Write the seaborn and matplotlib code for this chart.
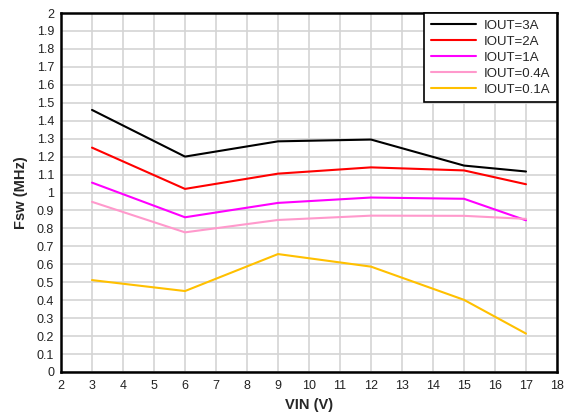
import matplotlib
matplotlib.use("Agg")
import matplotlib.pyplot as plt
import seaborn as sns
import pandas as pd

# ---------------------------------------------------
# DATA
# ---------------------------------------------------

vin = [3, 6, 9, 12, 15, 17]

fsw_3a = [1.46, 1.20, 1.285, 1.295, 1.15, 1.117]
fsw_2a = [1.25, 1.02, 1.105, 1.14, 1.123, 1.046]
fsw_1a = [1.055, 0.862, 0.942, 0.972, 0.965, 0.845]
fsw_04a = [0.948, 0.778, 0.847, 0.871, 0.87, 0.853]
fsw_01a = [0.512, 0.451, 0.657, 0.587, 0.402, 0.214]

labels = ["IOUT=3A", "IOUT=2A", "IOUT=1A", "IOUT=0.4A", "IOUT=0.1A"]
colors = ["#000000", "#ff0000", "#ff00ff", "#ff99cc", "#ffc000"]

series = [fsw_3a, fsw_2a, fsw_1a, fsw_04a, fsw_01a]

rows = []
for label, values in zip(labels, series):
    for v, f in zip(vin, values):
        rows.append({"VIN": v, "Fsw": f, "Load": label})
df = pd.DataFrame(rows)

# ---------------------------------------------------
# STYLE
# ---------------------------------------------------

sns.set_style("white")
plt.rcParams["font.family"] = ["Liberation Sans", "DejaVu Sans"]

fig = plt.figure(figsize=(5.64, 4.13), dpi=100)
ax = fig.add_axes([61 / 564, 1 - 372 / 413, (557 - 61) / 564, (372 - 13) / 413])

sns.lineplot(
    data=df,
    x="VIN",
    y="Fsw",
    hue="Load",
    hue_order=labels,
    palette=dict(zip(labels, colors)),
    linewidth=1.5,
    ax=ax
)

ax.set_xlim(2, 18)
ax.set_ylim(0, 2)
ax.set_xticks(range(2, 19))
ax.set_yticks([i / 10 for i in range(21)])
ax.set_yticklabels([f"{i / 10:g}" for i in range(21)])

ax.grid(True, color="#d4d4d4", linewidth=1.2)
ax.set_axisbelow(True)
ax.tick_params(axis="both", length=0, labelsize=9, colors="#222222")
ax.tick_params(axis="x", pad=6)
ax.tick_params(axis="y", pad=5)

for spine in ax.spines.values():
    spine.set_color("black")
    spine.set_linewidth(1.8)

ax.set_xlabel("VIN (V)", fontsize=10.5, fontweight="bold", labelpad=4)
ax.set_ylabel("Fsw (MHz)", fontsize=10.5, fontweight="bold", labelpad=6)

leg = ax.legend(
    loc="upper right",
    borderaxespad=0,
    fontsize=9.5,
    fancybox=False,
    framealpha=1,
    edgecolor="black",
    handlelength=3.4,
    labelspacing=0.28,
    borderpad=0.5,
    handletextpad=0.6,
    title=None
)
leg.get_frame().set_linewidth(1.2)

plt.savefig("out.png", dpi=100)
plt.close()
